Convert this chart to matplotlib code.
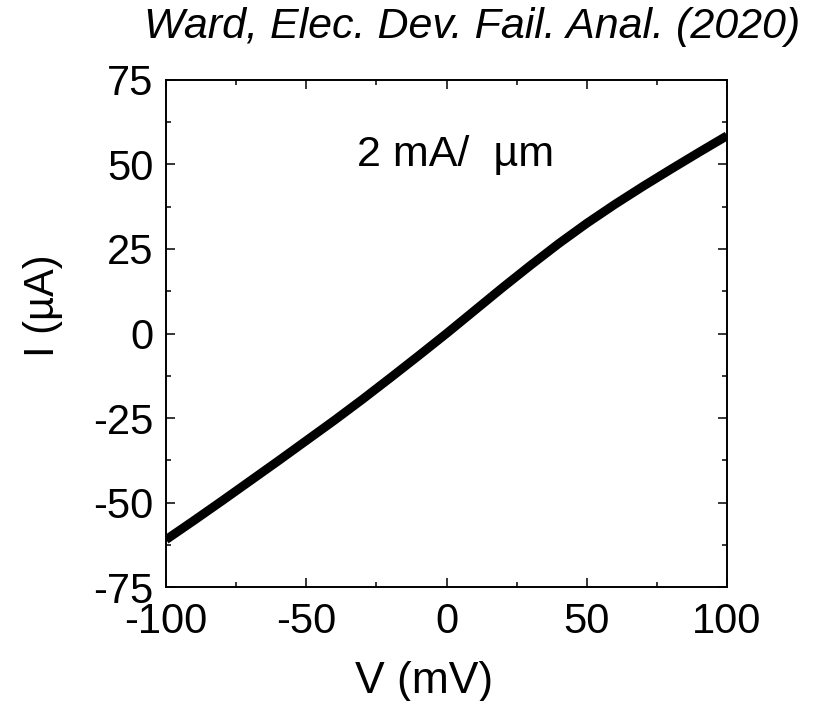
import matplotlib
matplotlib.use("Agg")
import matplotlib.pyplot as plt
from matplotlib.ticker import MultipleLocator

voltage_mV = [-100, -90, -80, -70, -60, -50, -40, -30, -20, -10, 0,
              10, 20, 30, 40, 50, 60, 70, 80, 90, 100]
current_uA = [-61.0, -55.3, -49.5, -43.6, -37.7, -31.7, -25.7, -19.5, -13.1, -6.6, 0.0,
              6.8, 13.6, 20.2, 26.6, 32.6, 38.2, 43.5, 48.6, 53.6, 58.5]
x_ticks = [-100, -50, 0, 50, 100]
y_ticks = [-75, -50, -25, 0, 25, 50, 75]

plt.rcParams['font.family'] = ['Liberation Sans', 'DejaVu Sans']
plt.rcParams['axes.unicode_minus'] = False

fig = plt.figure(figsize=(8.23, 7.01), dpi=100)
ax = fig.add_axes([0.2017, 0.1626, 0.6817, 0.7233])

ax.plot(voltage_mV, current_uA, color='black', lw=6.4, solid_capstyle='butt',
        solid_joinstyle='round')

ax.set_xlim(-100, 100)
ax.set_ylim(-75, 75)
ax.set_xticks(x_ticks)
ax.set_yticks(y_ticks)
ax.xaxis.set_minor_locator(MultipleLocator(25))
ax.yaxis.set_minor_locator(MultipleLocator(12.5))
ax.tick_params(which='both', direction='in', top=True, right=True,
               labelsize=30, width=1.1)
ax.tick_params(which='major', length=6.5)
ax.tick_params(which='minor', length=3.6)
ax.tick_params(axis='x', pad=11)
ax.tick_params(axis='y', pad=9)
for s in ax.spines.values():
    s.set_linewidth(1.4)

ax.set_xlabel('V (mV)', fontsize=32, labelpad=8)
ax.xaxis.set_label_coords(0.46, -0.145)
ax.set_ylabel('I (µA)', fontsize=30, labelpad=14)
ax.yaxis.set_label_coords(-0.184, 0.554)

ax.text(0.517, 0.83, '2 mA/  µm', transform=ax.transAxes, fontsize=31,
        ha='center', va='baseline')
fig.text(0.972, 0.962, 'Ward, Elec. Dev. Fail. Anal. (2020)', fontsize=31,
         style='italic', ha='right', va='center')

fig.savefig('out.png', dpi=100)
